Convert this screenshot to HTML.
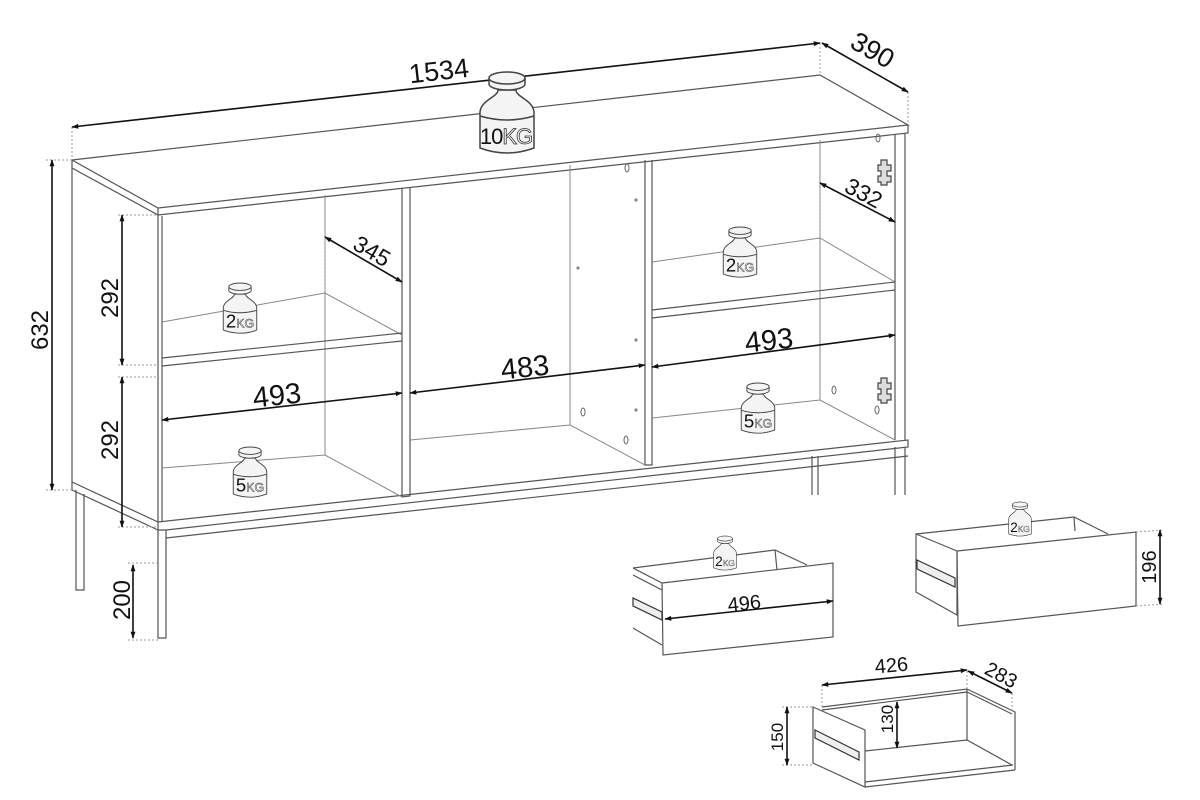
<!DOCTYPE html>
<html><head><meta charset="utf-8"><style>
html,body{margin:0;padding:0;background:#fff;width:1200px;height:800px;overflow:hidden}
svg{display:block}
text{font-family:"Liberation Sans",Arial,sans-serif;fill:#111}
.l{stroke:#555;stroke-width:1.2;fill:none}
.t{stroke:#888;stroke-width:1;fill:none}
.d{stroke:#999;stroke-width:1;stroke-dasharray:2 2;fill:none}
.a{stroke:#111;stroke-width:1.6;fill:none;marker-start:url(#ah);marker-end:url(#ah)}
.w path,.w ellipse{stroke:#444;stroke-width:1.5;fill:#f4f4f4}
.kg{fill:#fff;stroke:#333;stroke-width:.8}
</style></head><body>
<svg width="1200" height="800" viewBox="0 0 1200 800" xmlns="http://www.w3.org/2000/svg">
<defs>
<marker id="ah" viewBox="0 0 10 10" refX="9" refY="5" markerWidth="9" markerHeight="7" orient="auto-start-reverse" markerUnits="userSpaceOnUse"><path d="M0,1.5 L10,5 L0,8.5 z" fill="#111"/></marker>
</defs>

<!-- Top slab -->
<path class="l" d="M72,160 L820,75 L908,125 L158,208 Z"/>
<path class="l" d="M72,160 L72,168 L158,215 L908,133 L908,125 M158,208 L158,215"/>
<!-- left side back edge -->
<path class="l" d="M72,168 L72,482"/>
<!-- body front left -->
<path class="l" d="M158,215 L158,522 M162,216 L162,522"/>
<!-- right side -->
<path class="l" d="M895,134 L895,440 M905,133 L905,440"/>
<!-- plinth -->
<path class="l" d="M72,482 L158,522 L908,440 L908,447 L166,530 L158,530 L158,522 M72,482 L72,490 L158,530"/>
<path class="l" d="M166,538 L908,456"/>
<!-- legs -->
<path class="l" d="M158,530 L158,638 L166,638 L166,530"/>
<path class="l" d="M76,490 L76,590 L84,590 L84,494"/>
<path class="l" d="M812,456 L812,495 M818,456 L818,495 M895,447 L895,495 M905,447 L905,495"/>

<!-- dividers -->
<path class="l" d="M402,188 L402,497 L410,496 L410,187"/>
<path class="l" d="M645,160 L645,465 L652,465 L652,160"/>

<!-- left compartment -->
<path class="t" d="M325,195 L325,455"/>
<path class="t" d="M162,322 L325,293 L402,335"/>
<path class="l" d="M162,358 L402,333 M162,366 L402,341"/>
<path class="t" d="M162,468 L325,455 L402,497"/>
<!-- middle compartment -->
<path class="t" d="M570,165 L570,425 L645,465 M410,440 L570,425"/>
<!-- right compartment -->
<path class="t" d="M820,140 L820,400"/>
<path class="t" d="M652,262 L820,238 L895,282"/>
<path class="l" d="M652,310 L895,282 M652,318 L895,290"/>
<path class="t" d="M652,418 L820,400 L895,440"/>
<!-- holes -->
<g fill="none" stroke="#666" stroke-width="1">
<ellipse cx="578" cy="268" rx="1" ry="1"/><ellipse cx="636" cy="200" rx="1" ry="1"/>
<ellipse cx="636" cy="340" rx="1" ry="1"/><ellipse cx="636" cy="410" rx="1" ry="1"/>
<ellipse cx="583" cy="412" rx="2" ry="4"/><ellipse cx="626" cy="440" rx="2" ry="4"/>
<ellipse cx="627" cy="168" rx="2" ry="4"/><ellipse cx="878" cy="138" rx="2" ry="4"/>
<ellipse cx="834" cy="390" rx="2" ry="4"/><ellipse cx="877" cy="410" rx="2" ry="4"/>
</g>
<!-- hinges -->
<g fill="#ddd" stroke="#444" stroke-width="1.2">
<path d="M881,160 h6 v5 h4 v6 h-4 v5 h4 v6 h-4 v3 h-6 v-3 h-3 v-6 h3 v-5 h-3 v-6 h3 z"/>
<path d="M881,378 h6 v5 h4 v6 h-4 v5 h4 v6 h-4 v3 h-6 v-3 h-3 v-6 h3 v-5 h-3 v-6 h3 z"/>
</g>

<!-- dimension extension lines -->
<path class="d" d="M72,127 L72,160 M820,43 L820,75 M908,92 L908,125 M46,160 L72,160 M46,490 L72,490 M118,215 L158,215 M118,365 L158,365 M118,377 L158,377 M118,527 L158,527 M128,563 L158,563 M128,640 L158,640 M325,237 L325,293 M820,183 L820,238"/>

<!-- dimensions main -->
<line class="a" x1="72" y1="127" x2="820" y2="43"/>
<text x="440" y="80" font-size="27" text-anchor="middle" transform="rotate(-6.4 440 80)">1534</text>
<line class="a" x1="822" y1="43" x2="908" y2="92"/>
<text x="868" y="58" font-size="27" text-anchor="middle" transform="rotate(30 868 58)">390</text>
<line class="a" x1="52" y1="160" x2="52" y2="490"/>
<text x="48" y="330" font-size="24" text-anchor="middle" transform="rotate(-90 48 330)">632</text>
<line class="a" x1="122" y1="215" x2="122" y2="365"/>
<text x="118" y="298" font-size="24" text-anchor="middle" transform="rotate(-90 118 298)">292</text>
<line class="a" x1="122" y1="377" x2="122" y2="527"/>
<text x="118" y="440" font-size="24" text-anchor="middle" transform="rotate(-90 118 440)">292</text>
<line class="a" x1="133" y1="565" x2="133" y2="638"/>
<text x="130" y="600" font-size="24" text-anchor="middle" transform="rotate(-90 130 600)">200</text>
<line class="a" x1="325" y1="237" x2="402" y2="282"/>
<text x="368" y="258" font-size="23" text-anchor="middle" transform="rotate(30 368 258)">345</text>
<line class="a" x1="820" y1="183" x2="895" y2="222"/>
<text x="860" y="200" font-size="23" text-anchor="middle" transform="rotate(28 860 200)">332</text>
<line class="a" x1="162" y1="420" x2="402" y2="393"/>
<text x="278" y="405" font-size="29" text-anchor="middle" transform="rotate(-6 278 405)">493</text>
<line class="a" x1="410" y1="393" x2="645" y2="365"/>
<text x="526" y="377" font-size="29" text-anchor="middle" transform="rotate(-6 526 377)">483</text>
<line class="a" x1="652" y1="367" x2="895" y2="335"/>
<text x="770" y="350" font-size="29" text-anchor="middle" transform="rotate(-6 770 350)">493</text>

<!-- weights -->
<g class="w" transform="translate(507,72)">
<path d="M-9,18 C-9,25 -26,28 -27,40 L-27,76 Q0,86 27,76 L27,40 C26,28 9,25 9,18 Z"/>
<path d="M-18,6 v6 a18 6 0 0 0 36 0 v-6"/><ellipse cx="0" cy="6" rx="18" ry="6"/>
<path d="M-27,44 Q0,52 27,44" fill="none"/>
<text x="-1" y="72" font-size="22" text-anchor="middle" letter-spacing="-1">10<tspan class="kg">KG</tspan></text>
</g>
<g class="w" transform="translate(240,283) scale(0.62)">
<path d="M-9,18 C-9,25 -26,28 -27,40 L-27,76 Q0,86 27,76 L27,40 C26,28 9,25 9,18 Z"/>
<path d="M-18,6 v6 a18 6 0 0 0 36 0 v-6"/><ellipse cx="0" cy="6" rx="18" ry="6"/>
<path d="M-27,44 Q0,52 27,44" fill="none"/>
<text x="0" y="72" font-size="30" text-anchor="middle">2<tspan class="kg" font-size="20">KG</tspan></text>
</g>
<g class="w" transform="translate(250,447) scale(0.62)">
<path d="M-9,18 C-9,25 -26,28 -27,40 L-27,76 Q0,86 27,76 L27,40 C26,28 9,25 9,18 Z"/>
<path d="M-18,6 v6 a18 6 0 0 0 36 0 v-6"/><ellipse cx="0" cy="6" rx="18" ry="6"/>
<path d="M-27,44 Q0,52 27,44" fill="none"/>
<text x="0" y="72" font-size="30" text-anchor="middle">5<tspan class="kg" font-size="20">KG</tspan></text>
</g>
<g class="w" transform="translate(740,227) scale(0.62)">
<path d="M-9,18 C-9,25 -26,28 -27,40 L-27,76 Q0,86 27,76 L27,40 C26,28 9,25 9,18 Z"/>
<path d="M-18,6 v6 a18 6 0 0 0 36 0 v-6"/><ellipse cx="0" cy="6" rx="18" ry="6"/>
<path d="M-27,44 Q0,52 27,44" fill="none"/>
<text x="0" y="72" font-size="30" text-anchor="middle">2<tspan class="kg" font-size="20">KG</tspan></text>
</g>
<g class="w" transform="translate(758,383) scale(0.62)">
<path d="M-9,18 C-9,25 -26,28 -27,40 L-27,76 Q0,86 27,76 L27,40 C26,28 9,25 9,18 Z"/>
<path d="M-18,6 v6 a18 6 0 0 0 36 0 v-6"/><ellipse cx="0" cy="6" rx="18" ry="6"/>
<path d="M-27,44 Q0,52 27,44" fill="none"/>
<text x="0" y="72" font-size="30" text-anchor="middle">5<tspan class="kg" font-size="20">KG</tspan></text>
</g>

<!-- Drawer 1 -->
<path class="l" d="M633,568 L775,550 L807,565 M775,550 L777,570 M633,568 L662,583 M633,575 L662,590"/>
<path class="l" d="M633,628 L662,645"/>
<path fill="#fff" class="l" d="M662,583 L833,563 L833,637 L663,655 Z"/>
<path fill="#eee" stroke="#333" stroke-width="1.2" d="M633,598 L662,612 L662,620 L633,606 Z"/>
<g class="w" transform="translate(725,536) scale(0.42)">
<path d="M-9,18 C-9,25 -26,28 -27,40 L-27,76 Q0,86 27,76 L27,40 C26,28 9,25 9,18 Z"/>
<path d="M-18,6 v6 a18 6 0 0 0 36 0 v-6"/><ellipse cx="0" cy="6" rx="18" ry="6"/>
<text x="0" y="72" font-size="32" text-anchor="middle">2<tspan class="kg" font-size="20">KG</tspan></text>
</g>
<line class="a" x1="665" y1="619" x2="833" y2="601"/>
<text x="745" y="610" font-size="20" text-anchor="middle" transform="rotate(-6 745 610)">496</text>

<!-- Drawer 2 -->
<path class="l" d="M916,534 L1074,517 L1108,534 M1074,517 L1075,531"/>
<path class="l" fill="#fff" d="M916,534 L957,551 L957,615 L916,592 Z"/>
<path fill="#eee" stroke="#333" stroke-width="1.2" d="M917,560 L955,578 L955,587 L917,569 Z"/>
<g class="w" transform="translate(1020,502) scale(0.42)">
<path d="M-9,18 C-9,25 -26,28 -27,40 L-27,76 Q0,86 27,76 L27,40 C26,28 9,25 9,18 Z"/>
<path d="M-18,6 v6 a18 6 0 0 0 36 0 v-6"/><ellipse cx="0" cy="6" rx="18" ry="6"/>
<text x="0" y="72" font-size="32" text-anchor="middle">2<tspan class="kg" font-size="20">KG</tspan></text>
</g>
<path fill="#fff" class="l" d="M957,551 L1136,532 L1136,606 L958,626 Z"/>
<path class="d" d="M1136,532 L1163,530 M1136,606 L1163,604"/>
<line class="a" x1="1160" y1="530" x2="1160" y2="604"/>
<text x="1156" y="567" font-size="20" text-anchor="middle" transform="rotate(-90 1156 567)">196</text>

<!-- Drawer 3 -->
<path class="l" d="M822,707 L967,689 L967,740 M822,710 L967,692"/>
<path class="l" d="M967,689 L1015,712 L1015,770 M967,692 L1012,714 M865,751 L967,740 L1012,765"/>
<path class="l" d="M865,782 L1013,765 M865,787 L1015,770"/>
<path class="l" fill="#fff" d="M813,707 L865,730 L865,787 L813,763 Z"/>
<path fill="#eee" stroke="#333" stroke-width="1.2" d="M815,730 L859,752 L859,760 L815,738 Z"/>
<path class="d" d="M822,707 L822,685 M967,689 L967,670 M1012,693 L1012,712 M782,707 L813,707 M782,765 L813,765"/>
<line class="a" x1="822" y1="685" x2="967" y2="670"/>
<text x="892" y="672" font-size="20" text-anchor="middle" transform="rotate(-5 892 672)">426</text>
<line class="a" x1="968" y1="671" x2="1012" y2="693"/>
<text x="998" y="681" font-size="20" text-anchor="middle" transform="rotate(28 998 681)">283</text>
<line class="a" x1="787" y1="707" x2="787" y2="765"/>
<text x="783" y="737" font-size="17" text-anchor="middle" transform="rotate(-90 783 737)">150</text>
<line class="a" x1="897" y1="702" x2="897" y2="748"/>
<text x="893" y="719" font-size="17" text-anchor="middle" transform="rotate(-90 893 719)">130</text>
</svg>
</body></html>
